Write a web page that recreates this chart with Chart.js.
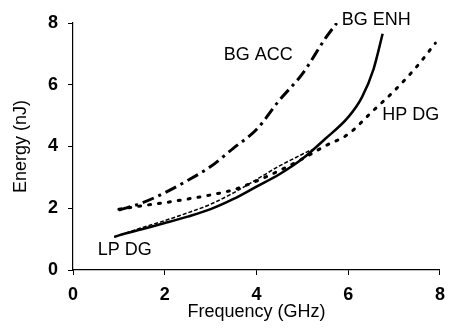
<!DOCTYPE html>
<html>
<head>
<meta charset="utf-8">
<script src="https://cdn.jsdelivr.net/npm/chart.js@4.4.1/dist/chart.umd.min.js"></script>
<style>
html,body{margin:0;padding:0;background:#fff;}
#wrap{width:454px;height:329px;}
</style>
</head>
<body>
<div id="wrap"><canvas id="c" width="454" height="329"></canvas></div>
<script>
// Data (x: GHz, y: nJ)
const bgAccX = [1, 1.5, 2, 2.5, 3, 3.5, 4, 4.5, 5, 5.5, 5.75];
const bgAccY = [1.94, 2.17, 2.5, 2.9, 3.35, 3.95, 4.55, 5.5, 6.35, 7.5, 8.0];
const bgEnhX = [0.9, 1, 1.5, 2, 2.5, 3, 3.5, 4, 4.5, 5, 5.5, 6, 6.3, 6.55, 6.75];
const bgEnhY = [1.07, 1.12, 1.32, 1.52, 1.73, 1.97, 2.3, 2.7, 3.1, 3.6, 4.25, 4.95, 5.6, 6.5, 7.65];
const hpDgX = [1, 1.5, 2, 2.5, 3, 3.5, 4, 4.5, 5, 5.5, 6, 6.5, 7, 7.5, 7.9];
const hpDgY = [1.97, 2.08, 2.18, 2.3, 2.43, 2.6, 2.88, 3.22, 3.6, 4.02, 4.4, 5.1, 5.8, 6.6, 7.35];
const lpDgX = [0.9, 1.5, 2, 2.5, 3, 3.5, 4, 4.5, 5, 5.2];
const lpDgY = [1.07, 1.37, 1.6, 1.85, 2.13, 2.5, 2.93, 3.37, 3.75, 3.9];

const seriesNames = ["BG ACC", "BG ENH", "HP DG", "LP DG"];
// label anchor positions in data units
const labelX = [4.04, 6.61, 7.36, 1.13];
const labelY = [6.96, 8.1, 5.02, 0.65];

const tickValues = [0, 2, 4, 6, 8];
const xTitle = "Frequency (GHz)";
const yTitle = "Energy (nJ)";

const zip = (xs, ys) => xs.map((x, i) => ({x: x, y: ys[i]}));
const FONT = "'Liberation Sans', Arial, sans-serif";

const labelPlugin = {
  id: 'seriesLabels',
  afterDatasetsDraw(chart) {
    const ctx = chart.ctx;
    const xs = chart.scales.x, ys = chart.scales.y;
    ctx.save();
    ctx.fillStyle = '#000';
    ctx.font = "18px " + FONT;
    ctx.textAlign = 'center';
    ctx.textBaseline = 'middle';
    seriesNames.forEach((n, i) => {
      ctx.fillText(n, xs.getPixelForValue(labelX[i]), ys.getPixelForValue(labelY[i]));
    });
    ctx.restore();
  }
};

new Chart(document.getElementById('c'), {
  type: 'line',
  data: {
    datasets: [
      {label: seriesNames[0], data: zip(bgAccX, bgAccY), borderColor: '#000', borderWidth: 3,
       borderDash: [12, 5, 3, 5], pointRadius: 0, cubicInterpolationMode: 'monotone', fill: false},
      {label: seriesNames[1], data: zip(bgEnhX, bgEnhY), borderColor: '#000', borderWidth: 2.5,
       pointRadius: 0, cubicInterpolationMode: 'monotone', fill: false},
      {label: seriesNames[2], data: zip(hpDgX, hpDgY), borderColor: '#000', borderWidth: 3,
       borderDash: [2, 8], borderCapStyle: 'round', pointRadius: 0, cubicInterpolationMode: 'monotone', fill: false},
      {label: seriesNames[3], data: zip(lpDgX, lpDgY), borderColor: '#000', borderWidth: 1.5,
       borderDash: [4, 2], pointRadius: 0, cubicInterpolationMode: 'monotone', fill: false}
    ]
  },
  options: {
    responsive: false,
    animation: false,
    layout: {padding: {left: 8, top: 23, right: 7, bottom: 4}},
    plugins: {legend: {display: false}, tooltip: {enabled: false}},
    scales: {
      x: {
        type: 'linear', min: 0, max: 8,
        afterBuildTicks: (s) => { s.ticks = tickValues.map(v => ({value: v})); },
        afterFit: (s) => { s.height = 55; },
        border: {display: true, color: '#000', width: 1.2},
        grid: {display: true, drawOnChartArea: false, drawTicks: true, tickLength: 5, color: '#000'},
        ticks: {color: '#000', font: {family: FONT, size: 18, weight: 'bold'}, padding: 9, maxRotation: 0},
        title: {display: true, text: xTitle, color: '#000', font: {family: FONT, size: 18}, padding: {top: 0, bottom: 2}}
      },
      y: {
        type: 'linear', min: 0, max: 8,
        afterBuildTicks: (s) => { s.ticks = tickValues.map(v => ({value: v})); },
        afterFit: (s) => { s.width = 65; },
        border: {display: true, color: '#000', width: 1.2},
        grid: {display: true, drawOnChartArea: false, drawTicks: true, tickLength: 5, color: '#000'},
        ticks: {color: '#000', font: {family: FONT, size: 18, weight: 'bold'}, padding: 10},
        title: {display: true, text: yTitle, color: '#000', font: {family: FONT, size: 18}, padding: {top: 2, bottom: 0}}
      }
    }
  },
  plugins: [labelPlugin]
});
</script>
</body>
</html>
